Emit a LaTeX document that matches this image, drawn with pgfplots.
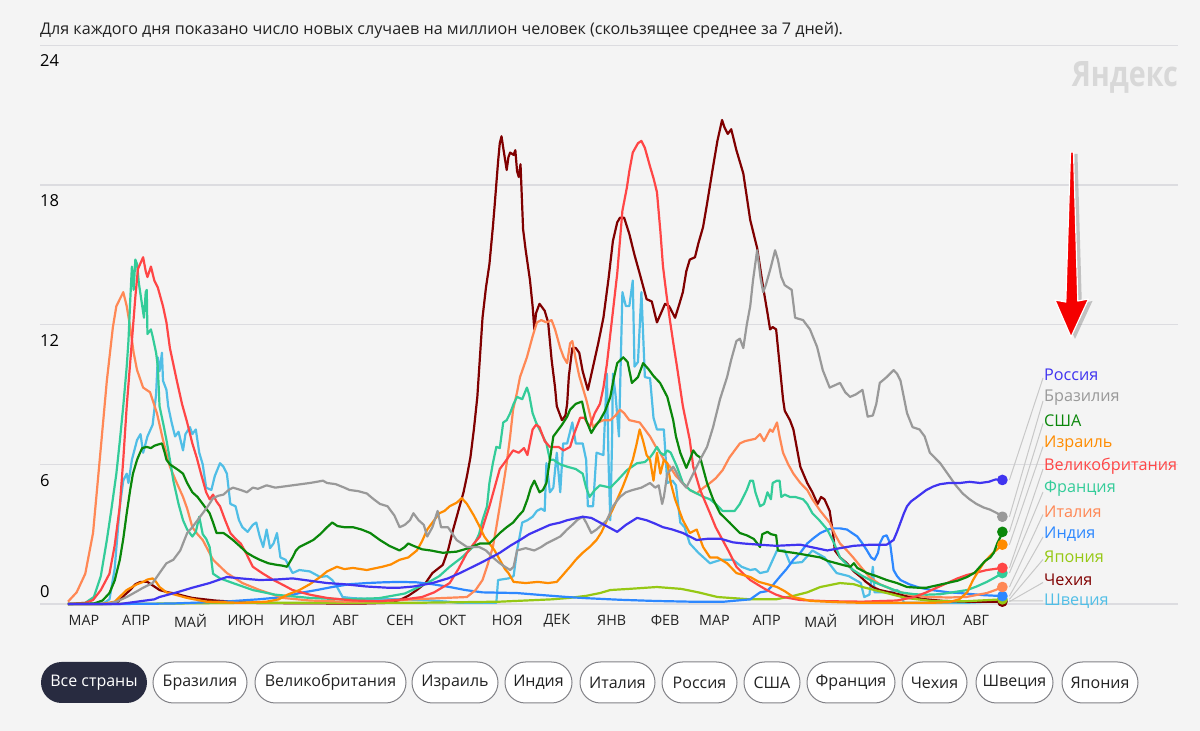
\documentclass[border=0pt]{standalone}
\usepackage{fontspec}
\setmainfont{Open Sans}
\usepackage{graphicx}
\usepackage{pgfplots}
\pgfplotsset{compat=1.18}
\usetikzlibrary{shadows}
\definecolor{bg}{RGB}{244,244,244}
\definecolor{gridc}{RGB}{220,220,224}
\definecolor{txt}{RGB}{34,34,34}
\definecolor{cRU}{RGB}{64,52,240}
\definecolor{cBR}{RGB}{153,153,153}
\definecolor{cUS}{RGB}{10,135,10}
\definecolor{cIL}{RGB}{255,140,0}
\definecolor{cGB}{RGB}{255,70,70}
\definecolor{cFR}{RGB}{51,204,153}
\definecolor{cIT}{RGB}{255,136,85}
\definecolor{cIN}{RGB}{45,136,255}
\definecolor{cJP}{RGB}{150,200,20}
\definecolor{cCZ}{RGB}{128,0,0}
\definecolor{cSE}{RGB}{80,190,230}
\definecolor{btn}{RGB}{40,43,64}
\begin{document}
\begin{tikzpicture}[x=1pt,y=1pt]
\fill[bg] (0,0) rectangle (1200,731);
\node[anchor=base west, inner sep=0, text=txt, font=\fontsize{16.1}{18}\selectfont] at (40,696.5) {Для каждого дня показано число новых случаев на миллион человек (скользящее среднее за 7 дней).};
\begin{axis}[
  at={(40pt,127pt)}, anchor=south west, scale only axis,
  width=1138pt, height=558.5pt,
  xmin=-16.21, xmax=642.7, ymin=0, ymax=24,
  axis line style={draw=none}, tick style={draw=none}, major tick length=0pt,
  ytick={0,6,12,18,24}, yticklabels={}, ymajorgrids,
  grid style={draw=gridc, line width=1.3pt},
  xtick={0,31,61,92,122,153,184,214,245,275,306,337,365,396,426,457,487,518},
  xticklabels={МАР,АПР,МАЙ,ИЮН,ИЮЛ,АВГ,СЕН,ОКТ,НОЯ,ДЕК,ЯНВ,ФЕВ,МАР,АПР,МАЙ,ИЮН,ИЮЛ,АВГ},
  xticklabel style={anchor=west, inner sep=0pt, yshift=-16.5pt, xshift=0.5pt, text=txt, font=\fontsize{14.3}{16}\selectfont},
  every axis plot/.append style={line width=2.2pt, line join=round, mark=none},
  clip=false,
]
% Швеция
\addplot[color=cSE] coordinates {(0,0) (20,0) (24,0.2) (27,1.5) (30,4.2) (32,5.3) (34,5.6) (35,5.2) (37,6.2) (40,7.05) (42,7.3) (43.5,6.5) (46,7.2) (49,7.7) (51,9.0) (52,10.6) (53,10.0) (54.4,10.8) (55,9.6) (57,9.2) (58,8.5) (60,7.8) (62,7.2) (64,7.4) (66.6,6.6) (68,7.3) (70.6,7.6) (72,7.3) (74,7.5) (76,6.5) (78,6.0) (80,5.0) (83,4.9) (85,5.5) (88,6.05) (90,5.9) (92,5.6) (94,4.3) (97,4.2) (99,3.6) (101,3.3) (104,3.1) (107,3.4) (109,3.5) (111,2.9) (113,2.45) (115,3.2) (117,2.4) (119,2.6) (121,3.05) (123,2.0) (126,1.9) (130,1.33) (134,1.46) (140,1.4) (146,1.16) (150,1.2) (153,1.03) (156,0.7) (159,0.3) (165,0.25) (180,0.2) (195,0.2) (210,0.15) (220,0.1) (226,0.05) (248,0.05) (249,1.03) (255,1.1) (258,1.2) (260,2.3) (263,3.5) (266,3.6) (269,3.75) (271.5,4.0) (274,4.1) (276,4.0) (277,6.05) (278,5.5) (279,4.8) (281,5.0) (283,6.5) (285,4.8) (286.7,6.9) (289,6.9) (292,7.8) (294,6.9) (298,6.9) (300,6.2) (301,4.2) (304,4.2) (306,6.5) (310,6.4) (312,9.9) (313,6.0) (314,3.6) (315,7.0) (315.5,9.9) (317,9.0) (319,7.2) (321,13.4) (323,12.8) (325,12.8) (327,13.9) (328,10.2) (330,10.4) (332,13.4) (334,9.75) (337,9.7) (339,8.0) (341,7.5) (345,7.5) (347,5.2) (350,5.3) (352,5.1) (354.5,3.5) (357,3.3) (360,2.6) (365,2.2) (371.7,1.75) (378,1.9) (385,1.9) (390,1.6) (395,1.46) (398,1.5) (400.7,1.33) (405,1.4) (410.5,2.3) (415,2.3) (418,1.75) (425,1.8) (431,2.3) (438,2.0) (445,1.33) (452,1.2) (459,0.9) (461,0.3) (464,0.4) (466,1.6) (467,0.5) (475,0.5) (480,0.6) (482,0.5) (484,0.05) (500,0.05) (520,0.05) (535,0.1) (541,0.14)};
% Чехия
\addplot[color=cCZ] coordinates {(0,0) (25,0) (29,0.1) (33,0.4) (36,0.6) (39,0.85) (42,0.95) (46,0.95) (50,0.75) (53,0.6) (58,0.5) (62,0.45) (67,0.35) (72,0.26) (85,0.15) (105,0.05) (134,0.03) (170,0.02) (185,0.05) (192,0.17) (197,0.35) (202,0.6) (207,0.9) (211,1.33) (217,1.68) (220,2.3) (223,3.2) (226,4.0) (229,4.8) (231,5.5) (233,6.3) (235,7.5) (237,8.9) (240,12.3) (242,13.6) (244,14.6) (246,16.2) (247,17.1) (249,19.0) (250,19.8) (251,20.1) (252,19.6) (254,18.65) (255,19.2) (256,19.4) (258,19.3) (259,19.5) (260,18.6) (261,18.35) (262,18.9) (263.5,16.1) (265,15.2) (267.5,13.9) (269,12.8) (270,11.8) (271,12.5) (273,12.9) (275,12.7) (276,12.6) (278,12.1) (280,10.5) (282,9.3) (283,8.5) (284,8.3) (286,7.9) (288,8.1) (289,8.6) (290,9.8) (292,11.0) (294,11.0) (296,10.8) (298,10.0) (301,9.2) (304,10.2) (307,11.2) (310,12.3) (313,14.0) (315.5,15.6) (318,16.4) (319.6,16.6) (322,16.6) (325,15.9) (328,15.0) (331,14.2) (335,13.1) (338,13.0) (341,12.1) (345.7,12.9) (348,12.8) (351.5,12.3) (354,12.9) (356,13.4) (358,14.3) (360,14.8) (363,14.9) (365,15.5) (367.7,16.2) (370,17.2) (373.5,18.8) (376,19.9) (378.7,20.8) (380,20.5) (382,20.2) (384,20.4) (387,19.5) (391,18.5) (393,17.5) (395,16.5) (399,15.3) (402.5,13.6) (405,12.5) (406.5,11.8) (408,11.9) (410,11.8) (412,10.3) (414,8.8) (415,8.3) (418,7.9) (420,7.5) (422,6.7) (424,5.9) (428,5.2) (431,4.8) (434,4.3) (436,4.6) (438,4.5) (441,4.0) (443,3.0) (444,2.3) (447,2.0) (451,1.75) (455,1.4) (459,1.16) (462,0.95) (466,0.73) (470,0.6) (478,0.47) (487.5,0.3) (497,0.2) (507,0.13) (520,0.1) (541,0.1)};
% Япония
\addplot[color=cJP] coordinates {(0,0) (60,0.02) (100,0.05) (200,0.05) (250,0.1) (280,0.2) (290,0.26) (300,0.35) (308,0.47) (314,0.6) (325,0.65) (341,0.73) (355,0.65) (365,0.5) (376,0.3) (395,0.2) (410,0.2) (420,0.35) (428,0.5) (435.6,0.73) (447,0.9) (455,0.85) (460,0.73) (474,0.47) (485,0.26) (500,0.13) (520,0.12) (541,0.2)};
% Индия
\addplot[color=cIN] coordinates {(0,0) (30,0) (60,0.02) (90,0.1) (110,0.2) (125,0.3) (134,0.47) (144,0.6) (153,0.73) (163,0.85) (173,0.9) (182,0.93) (192,0.95) (202,0.93) (211,0.85) (221,0.73) (230,0.6) (240,0.5) (260,0.47) (275,0.38) (289,0.3) (300,0.25) (320,0.18) (340,0.13) (360,0.1) (380,0.1) (395,0.2) (400.7,0.5) (404.6,0.55) (408,0.8) (412,1.16) (416,1.5) (420,1.9) (424,2.2) (428,2.6) (432,2.85) (435.6,3.05) (440,3.2) (443,3.25) (447,3.25) (451,3.2) (454,3.05) (457,2.9) (460,2.6) (462.6,2.3) (465,2.0) (467,1.9) (469,2.2) (470,2.6) (472,2.9) (474,2.95) (476,2.6) (478,1.46) (480,1.2) (482,1.03) (487,0.85) (493,0.7) (500,0.6) (510,0.5) (516.5,0.47) (530,0.38) (541,0.34)};
% Италия
\addplot[color=cIT] coordinates {(0,0.1) (5,0.5) (10,1.3) (14.5,3.05) (18.5,6.3) (22.5,9.6) (26,11.9) (28,12.8) (30,13.1) (32,13.4) (34,12.8) (36,11.9) (38,10.8) (40,10.05) (43.5,9.3) (47.5,9.1) (51.5,8.2) (55,7.05) (59,5.9) (63,5.2) (66.6,4.6) (69,4.1) (72,3.3) (75,3.0) (78,2.75) (84,1.9) (92,1.33) (101,0.9) (111,0.6) (124.5,0.26) (140,0.15) (160,0.1) (180,0.12) (200,0.2) (215,0.25) (231,0.3) (236,0.6) (240,1.03) (243,1.7) (246,2.45) (248,3.3) (250,4.2) (252,5.1) (254,6.05) (256,7.2) (257.7,8.35) (260,9.1) (261.7,9.75) (265.7,10.6) (269,11.5) (271.5,12.1) (274,12.2) (277,12.1) (280,12.2) (282,11.8) (285,11.0) (287,10.6) (289,10.35) (290.7,11.2) (292,11.3) (294,10.5) (296,9.8) (298,9.3) (300,8.8) (302,8.2) (304,7.6) (307,7.8) (310,7.9) (314,7.9) (317,8.1) (319.6,8.35) (322,8.2) (325,7.9) (331,7.8) (334,7.5) (337,7.2) (340,6.8) (342.8,6.5) (345,6.2) (348.5,5.9) (352,5.5) (356,5.2) (360,4.9) (364,4.75) (368,5.0) (371.7,5.2) (375,5.4) (379,5.75) (383,6.3) (386,6.6) (389,6.9) (392,7.0) (395,7.05) (398,7.1) (400.7,7.3) (403,7.0) (406.5,7.5) (408,7.4) (410.5,7.8) (412,7.2) (414,6.5) (417,6.0) (420,5.6) (424,5.2) (428,4.9) (431,4.5) (435.6,4.0) (441,3.5) (444,3.0) (447,2.6) (451,2.3) (454.6,2.0) (459,1.6) (464,1.16) (470,0.85) (478,0.6) (487,0.4) (497,0.3) (510,0.28) (520,0.3) (527,0.4) (532,0.47) (537,0.6) (541,0.73)};
% Франция
\addplot[color=cFR] coordinates {(0,0) (10,0.05) (15,0.3) (19,1.2) (22.5,2.75) (25,4.0) (28,5.6) (30,7.0) (32,8.5) (34,10.2) (35,11.3) (36,13.0) (37,14.5) (38,13.5) (39,14.8) (40,14.6) (41,13.8) (43,12.8) (44,12.3) (45,13.4) (45.6,13.5) (46,11.6) (48,11.8) (49,11.5) (51,10.8) (52,10.2) (53,8.5) (55,7.8) (57,7.05) (59,6.2) (61,5.3) (64,4.3) (66.6,3.6) (69,3.2) (72,2.9) (74,3.1) (76,3.75) (78,3.0) (80,2.8) (82,2.45) (84,1.3) (88,1.1) (95.5,0.9) (107,0.6) (120,0.4) (140,0.26) (160,0.2) (180,0.25) (195,0.45) (208,0.9) (215,1.2) (221,1.6) (228,2.0) (234.5,2.45) (238,3.0) (240,3.6) (242.6,4.2) (244,5.2) (246,6.05) (248,6.75) (250,6.7) (252,7.8) (254,7.9) (256,8.2) (258,8.6) (260,8.9) (263,8.8) (265.7,9.3) (267,9.0) (269,8.2) (271,7.8) (273,7.5) (275,7.2) (277,6.9) (279,6.2) (281,6.2) (285,6.0) (289,5.9) (294,5.8) (298,5.6) (300,5.0) (302,4.6) (305,4.9) (308,5.1) (314,5.0) (318,5.3) (323.6,5.75) (329.5,6.05) (334,6.1) (337,6.3) (339,6.5) (341,6.75) (343,6.5) (345,6.4) (347,6.6) (349,6.5) (352.6,5.9) (356,5.2) (360,4.9) (364,4.75) (368,4.6) (371.7,4.5) (375,4.3) (379,4.0) (386,4.0) (389,4.3) (393,4.9) (395,5.3) (396.6,5.3) (398,4.8) (400.7,4.2) (403,4.3) (405,4.8) (407,4.5) (408,5.2) (410.5,5.3) (412,5.3) (413,4.6) (415,4.7) (418,4.6) (421,4.6) (425.6,4.5) (428,4.3) (431,3.9) (435,3.6) (439.6,3.2) (443,2.7) (447,2.0) (451,1.7) (454.6,1.46) (460,1.2) (468,0.9) (475,0.7) (482,0.5) (490,0.42) (497,0.4) (505,0.42) (512,0.5) (520.6,0.6) (526,0.75) (532,0.95) (537,1.15) (541,1.33)};
% Великобритания
\addplot[color=cGB] coordinates {(0,0) (10,0.05) (14.5,0.17) (19,0.6) (24,1.3) (27,2.5) (30,4.2) (32,6.2) (34,8.5) (37,11.3) (39,13.2) (40.5,14.4) (43.5,14.9) (45,14.3) (46,14.05) (48,14.5) (50,13.9) (52,13.6) (55,12.8) (57,12.1) (59,11.0) (61,10.3) (63,9.6) (66,8.6) (69,7.8) (72,6.9) (74.5,6.3) (77,5.6) (80,4.8) (82,4.5) (84,4.7) (86,4.4) (88,4.2) (91,3.6) (94,3.05) (97,2.8) (100,2.6) (103,2.2) (107,1.6) (113,1.3) (119,1.03) (125,0.8) (130,0.6) (140,0.4) (150,0.26) (165,0.15) (180,0.12) (195,0.2) (205,0.3) (212,0.5) (221,0.9) (226,1.5) (231,2.2) (235,2.6) (238.5,2.9) (241,3.5) (244,4.2) (247,5.0) (250,5.8) (253,6.1) (257.7,6.6) (261,6.5) (264,6.7) (266,6.4) (269,7.5) (271,7.7) (273,7.6) (276,7.0) (279,6.75) (284,6.75) (287,6.6) (290.7,6.75) (293,7.3) (296.5,8.0) (299,8.0) (302,7.6) (305,8.2) (308,8.6) (310,9.3) (312,10.3) (314,11.6) (316,12.9) (318,14.2) (321,16.9) (323.6,17.9) (325,18.6) (327,19.4) (330,19.8) (332,19.9) (334,19.6) (337,18.8) (339,18.3) (341,17.7) (343,16.0) (344.5,14.5) (346.5,13.3) (348.5,12.2) (350.5,11.2) (352.6,10.2) (356,8.5) (360,7.05) (362,5.9) (366,4.9) (371.7,3.9) (375,3.3) (379,2.75) (383,2.2) (387,1.6) (391,1.3) (395,1.03) (400,0.8) (404.6,0.6) (410,0.4) (414,0.3) (424,0.17) (440,0.12) (460,0.1) (480,0.15) (490,0.3) (497,0.5) (503,0.7) (509,0.9) (515,1.1) (520.6,1.25) (526,1.35) (532,1.46) (541,1.55)};
% Израиль
\addplot[color=cIL] coordinates {(0,0) (20,0) (27,0.1) (34,0.6) (40,0.85) (43.5,0.95) (46,1.05) (49,1.1) (51,0.95) (53,0.73) (57,0.5) (62,0.4) (69,0.26) (80,0.1) (100,0.05) (115,0.1) (122,0.2) (127,0.4) (134,0.6) (140,0.85) (146,1.16) (150,1.4) (155.7,1.6) (160,1.5) (165,1.55) (173,1.46) (182,1.6) (187,1.7) (192,1.9) (197,2.0) (202,2.3) (205,2.7) (208,3.2) (212,3.6) (215,3.9) (218,4.0) (221,4.2) (225,4.35) (228,4.55) (231,4.3) (235,3.8) (238.5,3.3) (241,2.9) (244,2.6) (247,2.3) (250,1.9) (253,1.5) (255,1.33) (258,0.95) (265,0.9) (272,0.95) (278,0.9) (283,0.95) (286,1.2) (289,1.46) (290.7,1.6) (294,1.9) (298,2.2) (302,2.45) (306,2.75) (309,3.1) (312,3.6) (315,4.0) (318,4.5) (321,5.0) (323.6,5.5) (327,6.2) (329,6.8) (331,7.5) (333,7.0) (335,6.4) (337,6.2) (339,5.3) (341,6.5) (343,5.6) (345,6.2) (347,6.05) (349,5.2) (351.5,4.5) (354,4.0) (356,3.6) (360,3.05) (364,3.2) (367.7,2.45) (371.7,2.0) (376,2.0) (381.6,1.75) (387,1.33) (395,1.16) (400,0.95) (405,0.85) (410.5,0.73) (415,0.55) (420,0.3) (430,0.13) (445,0.08) (460,0.05) (500,0.05) (510,0.08) (516,0.2) (520.6,0.5) (524,1.03) (527,1.4) (530,1.75) (533,2.0) (535.6,2.2) (538,2.35) (541,2.55)};
% США
\addplot[color=cUS] coordinates {(0,0) (15,0.02) (20,0.15) (24,0.47) (27,1.0) (30,1.9) (32,2.8) (34,3.9) (36,4.9) (37.6,5.6) (40,6.2) (41.7,6.5) (43,6.7) (45.6,6.75) (48,6.7) (50,6.8) (52,6.85) (54.4,6.9) (56,6.5) (57,6.2) (59,6.0) (61,5.9) (64,5.75) (66.6,5.6) (69,5.2) (72,4.8) (75,4.6) (78,4.3) (80,4.1) (82,3.9) (84,3.5) (86,3.05) (90,3.05) (92,2.95) (95.5,2.75) (100,2.45) (103.6,2.2) (107,2.05) (111,1.9) (116,1.75) (121,1.68) (124,1.65) (126.8,1.6) (128,1.75) (130,2.0) (132,2.3) (134,2.45) (138,2.6) (142,2.75) (146,3.0) (150,3.3) (153,3.5) (156,3.35) (160,3.3) (165,3.3) (170,3.2) (175,3.05) (180.6,2.75) (186,2.5) (192,2.3) (195,2.45) (197,2.6) (200,2.5) (205,2.35) (210,2.3) (217,2.2) (225,2.25) (232,2.4) (238.5,2.6) (244,2.6) (250,3.05) (254,3.3) (257.7,3.5) (261,3.8) (263.5,4.0) (266,4.5) (268,5.0) (270,5.3) (273,4.8) (275,4.9) (277,5.2) (279,6.2) (281,7.2) (284,7.5) (286,7.7) (289,8.05) (290.7,8.35) (294,8.6) (297.6,8.7) (300,7.9) (303,7.35) (305,7.6) (308,7.9) (311,8.3) (314,8.9) (316,9.7) (318,10.35) (321.5,10.6) (324,10.4) (326.5,9.5) (330,9.75) (333,10.35) (336,10.1) (339,9.8) (342.8,9.5) (347,8.9) (350.4,7.9) (352,7.2) (354.5,6.5) (358,5.85) (360,6.2) (362,6.6) (364,6.4) (366,6.3) (370,5.2) (373.5,4.5) (377.5,3.9) (383,3.5) (389,3.05) (393,2.95) (397,2.8) (400.7,2.45) (402,3.0) (405,3.1) (407,3.0) (410,2.95) (411,2.3) (415,2.25) (420,2.2) (428,2.1) (435.6,2.0) (440,1.85) (445,1.75) (450,1.65) (453,1.6) (455,1.75) (457,1.55) (462.6,1.33) (468,1.2) (474,1.03) (480,0.9) (485.8,0.73) (492,0.7) (497,0.7) (503,0.8) (509,0.9) (515,1.0) (520.6,1.16) (525,1.35) (528,1.6) (531,1.85) (534,2.0) (536,2.2) (538,2.6) (540,2.9) (541,3.1)};
% Бразилия
\addplot[color=cBR] coordinates {(0,0) (22,0) (28,0.1) (34,0.3) (40,0.55) (43.5,0.7) (49,0.9) (53,1.33) (57,1.75) (61,1.9) (65,2.3) (69,3.05) (72,3.3) (75,3.6) (78,3.9) (81,4.2) (84,4.55) (87,4.65) (90,4.7) (93,4.9) (95.5,5.0) (100,4.9) (103.6,4.8) (107,5.0) (110,4.95) (115,5.1) (120,5.0) (125,5.05) (130,5.1) (135,5.15) (140,5.2) (144,5.25) (147.6,5.3) (150,5.2) (155,5.15) (160,5.0) (163,4.9) (168,4.85) (173,4.75) (177,4.5) (180.6,4.3) (185,4.2) (189,3.8) (192,3.3) (195,3.4) (198,3.6) (200,3.9) (203,3.6) (206,3.4) (208,2.9) (211,3.3) (214,4.0) (216,3.3) (220,3.3) (225,2.75) (231,2.45) (238,2.45) (242,2.3) (246,2.0) (250,1.75) (253,1.6) (256,1.46) (258,1.6) (260,2.3) (265,2.4) (270,2.3) (274,2.45) (277,2.6) (281,2.75) (285,2.9) (289,3.2) (292,3.4) (294.7,3.6) (298,3.75) (300,3.5) (303,3.05) (306,3.2) (309,3.4) (312,3.6) (315.5,4.2) (319.6,4.6) (323,4.8) (327,4.9) (332,5.0) (337,5.2) (340,5.0) (342,5.1) (344,4.3) (345,4.6) (347,5.6) (350.4,5.9) (352,5.7) (354.5,5.3) (358,5.0) (362,5.6) (366,6.2) (370,6.75) (373.5,7.6) (377.5,8.8) (381.6,9.75) (384,10.5) (387,11.3) (389,11.4) (391,11.0) (393,12.0) (395,12.8) (396.6,13.9) (399,15.2) (401,14.0) (402.5,13.4) (404,13.7) (406.5,14.35) (409.4,15.2) (411,14.8) (413,14.05) (415,13.7) (419,13.5) (421,12.3) (425.6,12.2) (429.6,11.8) (433.7,11.05) (437,10.05) (441,9.3) (444,9.4) (447,9.5) (450,9.1) (452.8,8.9) (456,9.0) (460,9.2) (463,8.05) (466,8.1) (468,8.6) (470,9.5) (474,9.75) (476,9.9) (478,10.05) (480,9.9) (482,9.6) (485.8,8.2) (489,7.6) (493,7.5) (496,7.2) (499,6.5) (505,6.05) (510.7,5.45) (514,5.1) (518,4.75) (522,4.5) (526,4.3) (530,4.15) (534,4.05) (538,3.9) (541,3.75)};
% Россия
\addplot[color=cRU] coordinates {(0,0) (30,0) (35,0.05) (40,0.1) (45,0.15) (50,0.2) (53,0.3) (58,0.4) (63,0.5) (72,0.7) (82,0.9) (92,1.16) (100,1.1) (111,1.03) (120,1.05) (130,1.1) (140,1.0) (150,0.9) (160,0.85) (173,0.75) (185,0.7) (192,0.7) (200,0.75) (211,0.9) (220,1.1) (227,1.33) (233,1.55) (238.5,1.75) (245,2.0) (250,2.2) (256,2.5) (261.7,2.75) (267,3.0) (273,3.2) (279,3.4) (285,3.5) (289,3.6) (298,3.75) (303,3.7) (308,3.5) (313,3.3) (318,3.1) (323,3.4) (329.5,3.7) (335,3.6) (340,3.45) (344.5,3.3) (350,3.2) (356,3.05) (360,2.9) (364,2.75) (370,2.8) (378,2.8) (385,2.65) (391,2.6) (400,2.55) (410,2.5) (424,2.55) (430,2.45) (439.6,2.3) (447,2.4) (455,2.5) (465,2.55) (474,2.55) (478,2.75) (480,3.1) (482,3.5) (484,3.9) (485.8,4.2) (488,4.4) (491.6,4.6) (497,4.9) (501,5.05) (505,5.15) (510,5.2) (516.5,5.2) (522,5.25) (528,5.2) (533,5.25) (537,5.35) (541,5.33)};
% end dots
\addplot[only marks, mark=*, mark size=4.2pt, color=cSE] coordinates {(541,0.14)};
\addplot[only marks, mark=*, mark size=4.2pt, color=cCZ] coordinates {(541,0.1)};
\addplot[only marks, mark=*, mark size=4.2pt, color=cJP] coordinates {(541,0.2)};
\addplot[only marks, mark=*, mark size=4.2pt, color=cIN] coordinates {(541,0.34)};
\addplot[only marks, mark=*, mark size=4.2pt, color=cIT] coordinates {(541,0.73)};
\addplot[only marks, mark=*, mark size=4.2pt, color=cFR] coordinates {(541,1.33)};
\addplot[only marks, mark=*, mark size=4.2pt, color=cGB] coordinates {(541,1.55)};
\addplot[only marks, mark=*, mark size=4.2pt, color=cIL] coordinates {(541,2.55)};
\addplot[only marks, mark=*, mark size=4.2pt, color=cUS] coordinates {(541,3.1)};
\addplot[only marks, mark=*, mark size=4.2pt, color=cBR] coordinates {(541,3.75)};
\addplot[only marks, mark=*, mark size=4.2pt, color=cRU] coordinates {(541,5.33)};
\coordinate (eRU) at (axis cs:541,5.33);
\coordinate (eBR) at (axis cs:541,3.75);
\coordinate (eUS) at (axis cs:541,3.1);
\coordinate (eIL) at (axis cs:541,2.55);
\coordinate (eGB) at (axis cs:541,1.55);
\coordinate (eFR) at (axis cs:541,1.33);
\coordinate (eIT) at (axis cs:541,0.73);
\coordinate (eIN) at (axis cs:541,0.34);
\coordinate (eJP) at (axis cs:541,0.2);
\coordinate (eCZ) at (axis cs:541,0.1);
\coordinate (eSE) at (axis cs:541,0.14);
\end{axis}
% y tick labels
\begin{scope}[every node/.style={inner sep=0pt, text=black, font=\fontsize{16.5}{18}\selectfont}]
\node[anchor=north west] at (40,731-54) {24};
\node[anchor=north west] at (40,731-194) {18};
\node[anchor=north west] at (40,731-334) {12};
\node[anchor=north west] at (40,731-474) {6};
\node[anchor=south west] at (40,731-598) {0};
\end{scope}
% legend connectors
\begin{scope}[draw={rgb,255:red,200;green,200;blue,200}, line width=1pt]
\draw ([xshift=7pt]eRU) -- (1043,731-378);
\draw ([xshift=7pt]eBR) -- (1043,731-401);
\draw ([xshift=7pt]eUS) -- (1043,731-423.5);
\draw ([xshift=7pt]eIL) -- (1043,731-446.5);
\draw ([xshift=7pt]eGB) -- (1043,731-469);
\draw ([xshift=7pt]eFR) -- (1043,731-492);
\draw ([xshift=7pt]eIT) -- (1043,731-514.5);
\draw ([xshift=7pt]eIN) -- (1043,731-537);
\draw ([xshift=7pt]eJP) -- (1043,731-559.5);
\draw ([xshift=7pt]eCZ) -- (1043,731-582.5);
\draw ([xshift=7pt]eSE) -- (1043,731-601);
\end{scope}
\begin{scope}[every node/.style={anchor=west, inner sep=0pt, font=\fontsize{16.2}{18}\selectfont}]
\node[text=cRU] at (1044,731-375) {Россия};
\node[text=cBR] at (1044,731-398) {Бразилия};
\node[text=cUS] at (1044,731-420.5) {США};
\node[text=cIL] at (1044,731-443.5) {Израиль};
\node[text=cGB] at (1044,731-466) {Великобритания};
\node[text=cFR] at (1044,731-489) {Франция};
\node[text=cIT] at (1044,731-511.5) {Италия};
\node[text=cIN] at (1044,731-534) {Индия};
\node[text=cJP] at (1044,731-556.5) {Япония};
\node[text=cCZ] at (1044,731-579.5) {Чехия};
\node[text=cSE] at (1044,731-601.5) {Швеция};
\end{scope}
% watermark
\node[anchor=east, inner sep=0pt, text={rgb,255:red,216;green,216;blue,216}, font=\fontsize{35}{37}\bfseries] at (1178,731-77) {\scalebox{0.82}[1]{Яндекс}};
% arrow
\filldraw[fill={rgb,255:red,245;green,0;blue,0}, draw=white, line width=1.2pt, line join=round,
  drop shadow={shadow xshift=4pt, shadow yshift=-2pt, opacity=0.3, fill=black!70}]
  (1070.5,731-152) -- (1073.5,731-152) -- (1077.8,731-301) -- (1088.5,731-299) -- (1071,731-337) -- (1055,731-300) -- (1065.8,731-302) -- cycle;
% buttons
\begin{scope}[font=\fontsize{16}{18}\selectfont]
\fill[btn, rounded corners=20.5pt] (41,28) rectangle (147,69);
\node[text=white] at (94,48.5) {Все страны};
\foreach \a/\b/\t in {153/247/Бразилия, 255/406/Великобритания, 412/498/Израиль, 505/572/Индия, 580/655/Италия, 662/737/Россия, 744/800/США, 807/895/Франция, 902/967/Чехия, 976/1053/Швеция, 1062/1138/Япония}{
  \filldraw[fill=white, draw={rgb,255:red,130;green,130;blue,135}, line width=1pt, rounded corners=20.5pt] (\a,28) rectangle (\b,69);
  \node[text=txt] at ({(\a+\b)/2},48.5) {\t};
}
\end{scope}
\pgfresetboundingbox
\useasboundingbox (0,0) rectangle (1200,731);
\end{tikzpicture}
\end{document}
